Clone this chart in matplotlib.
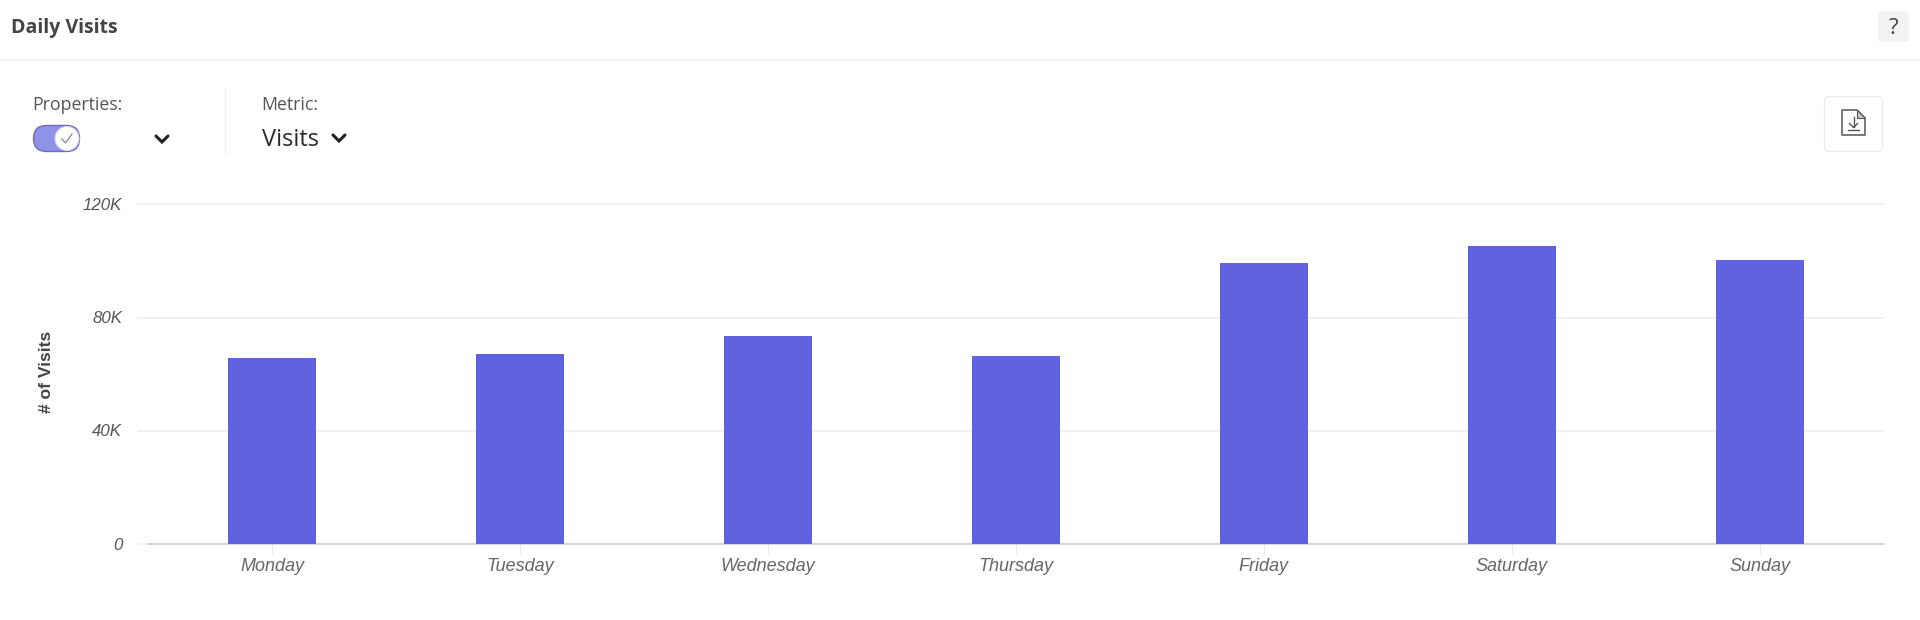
import matplotlib
matplotlib.use('Agg')
import matplotlib.pyplot as plt
from matplotlib.patches import FancyBboxPatch, Circle, Polygon

days = ['Monday', 'Tuesday', 'Wednesday', 'Thursday', 'Friday', 'Saturday', 'Sunday']
visits = [65700, 67100, 73400, 66400, 99400, 105400, 100200]
y_ticks = [0, 40000, 80000, 120000]
y_tick_labels = ['0', '40K', '80K', '120K']

W, H = 1920, 620
BAR = '#5f63e0'
GRID = '#eeeeee'
UI_FONT = 'Open Sans'

fig = plt.figure(figsize=(W / 100, H / 100), dpi=100, facecolor='white')

# main chart, position given in pixels of the screenshot
left, right, top, bottom = 148, 1883.5, 204.5, 543.5
ax = fig.add_axes([left / W, 1 - bottom / H, (right - left) / W, (bottom - top) / H])
ax.bar(range(len(days)), visits, width=0.355, color=BAR, zorder=3)
ax.set_xlim(-0.5, 6.5)
ax.set_ylim(0, 120000)
ax.set_yticks(y_ticks)
ax.set_yticklabels(y_tick_labels, fontfamily='Liberation Sans', fontstyle='italic',
                   fontsize=12.2, color='#555555')
ax.set_xticks(range(len(days)))
ax.set_xticklabels(days, fontfamily='Liberation Sans', fontstyle='italic',
                   fontsize=13, color='#666666')
ax.grid(axis='y', color=GRID, linewidth=1.2, zorder=0)
# the 120K line sits right on the axes edge and gets clipped otherwise
for line in ax.get_ygridlines():
    line.set_clip_on(False)
ax.set_axisbelow(True)
ax.tick_params(axis='y', length=8, width=1.2, color=GRID, pad=10.5)
ax.tick_params(axis='x', length=7, width=0.8, color='#e8e8e8', pad=3.5)
for side in ['top', 'right', 'left']:
    ax.spines[side].set_visible(False)
ax.spines['bottom'].set_color('#d4d4d8')
ax.spines['bottom'].set_linewidth(1.3)
ax.set_ylabel('# of Visits', fontfamily='Liberation Sans', fontweight='bold',
              fontsize=12.6, color='#444444')
ax.yaxis.set_label_coords((54 - left) / (right - left), 0.505, transform=ax.transAxes)

# dashboard controls around the chart, drawn in pixel coordinates
ui = fig.add_axes([0, 0, 1, 1], facecolor='none')
ui.set_xlim(0, W)
ui.set_ylim(H, 0)
ui.axis('off')

ui.text(11, 28, 'Daily Visits', fontfamily=UI_FONT, fontweight='bold', fontsize=14,
        color='#444444', va='center')
ui.plot([0, W], [60, 60], color='#f2f2f2', linewidth=1.2)
ui.add_patch(FancyBboxPatch((1878, 11), 31, 31, boxstyle='round,pad=0,rounding_size=4',
                            facecolor='#f3f3f3', edgecolor='none'))
ui.text(1893.5, 28.5, '?', fontfamily=UI_FONT, fontsize=16, color='#444444',
        ha='center', va='center')

ui.text(32.5, 105, 'Properties:', fontfamily=UI_FONT, fontsize=12.8, color='#555555', va='center')
ui.text(261.5, 105, 'Metric:', fontfamily=UI_FONT, fontsize=12.8, color='#555555', va='center')
ui.text(262, 139.5, 'Visits', fontfamily=UI_FONT, fontsize=17, color='#2b2b2b', va='center')
ui.plot([224.5, 224.5], [89, 152], color='#ececec', linewidth=1)

# toggle
ui.add_patch(FancyBboxPatch((33.5, 125.5), 46, 26, boxstyle='round,pad=0,rounding_size=13',
                            facecolor='#9092e8', edgecolor='#6a6cc4', linewidth=1))
ui.add_patch(Circle((67, 138.5), 12, facecolor='white', edgecolor='#d8d8e8', linewidth=0.8))
ui.plot([62, 65.5, 72], [139, 143, 134], color='#888888', linewidth=0.9)

# dropdown chevrons
for cx, cy in [(162, 139), (339, 138)]:
    ui.plot([cx - 6, cx, cx + 6], [cy - 3, cy + 3, cy - 3], color='#222222', linewidth=2.2,
            solid_capstyle='round', solid_joinstyle='miter')

# download button
ui.add_patch(FancyBboxPatch((1824.5, 96.5), 58, 55, boxstyle='round,pad=0,rounding_size=4',
                            facecolor='white', edgecolor='#ececec', linewidth=1))
ui.add_patch(Polygon([(1842, 110), (1857, 110), (1865, 118), (1865, 135), (1842, 135)],
                     closed=True, facecolor='white', edgecolor='#555555', linewidth=1.1,
                     joinstyle='round'))
ui.add_patch(Polygon([(1857, 110), (1857, 118), (1865, 118)], closed=True,
                     facecolor='#c8c8c8', edgecolor='#555555', linewidth=0.8))
ui.plot([1853.5, 1853.5], [117, 127], color='#555555', linewidth=1)
ui.plot([1849.5, 1853.5, 1857.5], [123.5, 127.5, 123.5], color='#555555', linewidth=1)
ui.plot([1848, 1859], [130, 130], color='#555555', linewidth=1)

fig.savefig('out.png', dpi=100)
